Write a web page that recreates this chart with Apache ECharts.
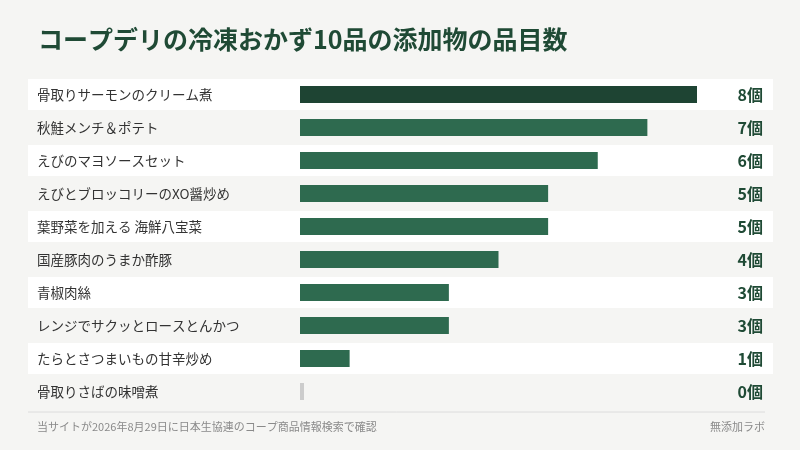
<!DOCTYPE html>
<html><head><meta charset="utf-8">
<script src="https://cdn.jsdelivr.net/npm/echarts@6/dist/echarts.min.js"></script>
<style>html,body{margin:0;padding:0;background:#f5f5f3}#c{width:800px;height:450px}</style>
</head><body><div id="c"></div>
<script>
const categories = ['骨取りサーモンのクリーム煮','秋鮭メンチ＆ポテト','えびのマヨソースセット','えびとブロッコリーのXO醤炒め','葉野菜を加える 海鮮八宝菜','国産豚肉のうまか酢豚','青椒肉絲','レンジでサクッとロースとんかつ','たらとさつまいもの甘辛炒め','骨取りさばの味噌煮'];
const values = [8,7,6,5,5,4,3,3,1,0];
const unit = '個';
const titleText = 'コープデリの冷凍おかず10品の添加物の品目数';
const footLeft = '当サイトが2026年8月29日に日本生協連のコープ商品情報検索で確認';
const footRight = '無添加ラボ';

const FONT = '"Noto Sans CJK JP","Noto Sans",sans-serif';
const chart = echarts.init(document.getElementById('c'));
chart.setOption({
  backgroundColor: '#f5f5f3',
  textStyle: {fontFamily: FONT},
  title: [
    {text: titleText, left: 33, top: 22, textStyle: {fontSize: 25, fontWeight: 'bold', color: '#1f4a35', fontFamily: FONT}},
    {text: footLeft, left: 32, top: 416, textStyle: {fontSize: 11, fontWeight: 'normal', color: '#8a8a8a', fontFamily: FONT}},
    {text: footRight, right: 30, top: 416, textStyle: {fontSize: 11, fontWeight: 'normal', color: '#8a8a8a', fontFamily: FONT}}
  ],
  graphic: [{type: 'line', shape: {x1: 28, y1: 412, x2: 765, y2: 412}, style: {stroke: '#dcdcdc', lineWidth: 1}}],
  grid: [
    {left: 28, right: 27, top: 78, bottom: 42},
    {left: 300, right: 103, top: 78, bottom: 42}
  ],
  xAxis: [
    {gridIndex: 0, type: 'value', min: 0, max: 1, show: false},
    {gridIndex: 1, type: 'value', min: 0, max: 8, show: false}
  ],
  yAxis: [
    {gridIndex: 0, type: 'category', data: categories, inverse: true, show: false},
    {gridIndex: 1, type: 'category', data: categories, inverse: true, z: 10,
     axisLine: {show: false}, axisTick: {show: false},
     axisLabel: {interval: 0, margin: 263, align: 'left', fontSize: 13.5, color: '#333', fontFamily: FONT}}
  ],
  series: [
    {type: 'bar', xAxisIndex: 0, yAxisIndex: 0, barWidth: 31, silent: true, z: 1,
     data: categories.map((c, i) => ({value: 1, itemStyle: {color: i % 2 === 0 ? '#ffffff' : 'rgba(0,0,0,0)'}})),
     label: {show: true, position: 'insideRight', distance: 10, fontSize: 16, fontWeight: 'bold', color: '#1f4a35', fontFamily: FONT,
             formatter: p => values[p.dataIndex] + unit}},
    {type: 'bar', xAxisIndex: 1, yAxisIndex: 1, barWidth: 17, barMinHeight: 4, z: 3,
     data: values.map((v, i) => ({value: v, itemStyle: {color: v === 0 ? '#cccccc' : (i === 0 ? '#1e4433' : '#2e6a4f')}}))}
  ]
});
</script></body></html>
